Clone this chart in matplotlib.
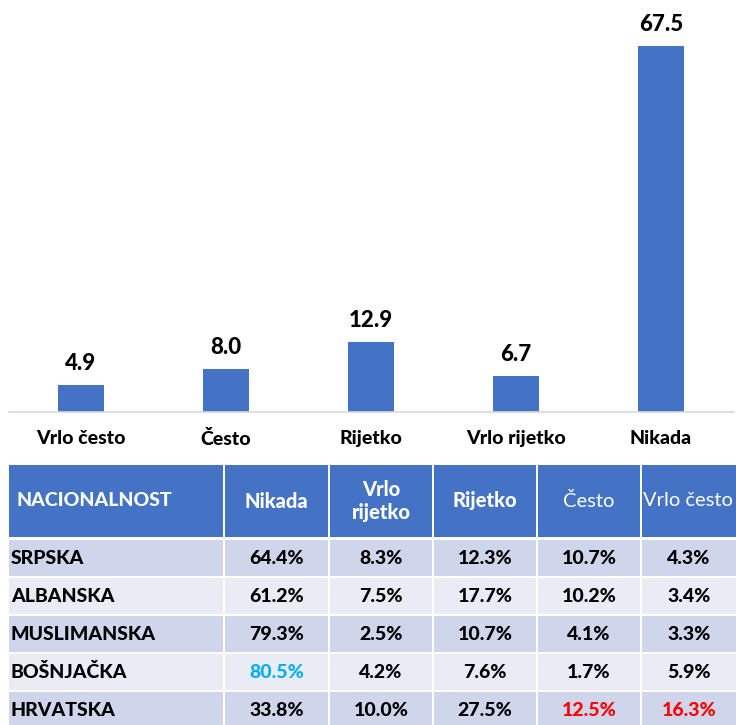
import matplotlib.pyplot as plt
from matplotlib.patches import Rectangle

plt.rcParams['font.family'] = ['Lato', 'DejaVu Sans']

# stupci gore
kategorije = ["Vrlo često", "Često", "Rijetko", "Vrlo rijetko", "Nikada"]
vrijednosti = [4.9, 8.0, 12.9, 6.7, 67.5]

# tablica dolje
zaglavlje = ["NACIONALNOST", "Nikada", "Vrlo\nrijetko", "Rijetko", "Često", "Vrlo često"]
nacionalnost = ["SRPSKA", "ALBANSKA", "MUSLIMANSKA", "BOŠNJAČKA", "HRVATSKA"]
nikada = [64.4, 61.2, 79.3, 80.5, 33.8]
vrlo_rijetko = [8.3, 7.5, 2.5, 4.2, 10.0]
rijetko = [12.3, 17.7, 10.7, 7.6, 27.5]
cesto = [10.7, 10.2, 4.1, 1.7, 12.5]
vrlo_cesto = [4.3, 3.4, 3.3, 5.9, 16.3]
istaknuto = {(3, 0): "#00B0F0", (4, 3): "#FF0000", (4, 4): "#FF0000"}

plava = "#4472C4"
W, H = 736, 725
jako = 900

fig = plt.figure(figsize=(W / 100, H / 100), dpi=100)

# --- stupčasti grafikon ---
ax = fig.add_axes([8.5 / W, (H - 412) / H, 725 / W, 412 / H])
x = range(len(kategorije))
ax.bar(x, vrijednosti, width=0.32, color=plava)
for i, v in zip(x, vrijednosti):
    ax.annotate(f"{v:.1f}", (i, v), xytext=(0, 8), textcoords="offset points",
                ha="center", va="bottom", fontsize=16, fontweight=jako)
ax.set_xlim(-0.5, 4.5)
ax.set_ylim(0, 76)
ax.set_xticks(list(x))
ax.set_xticklabels(kategorije, fontsize=14, fontweight=jako)
ax.tick_params(axis="x", length=0, pad=13)
ax.set_yticks([])
for s in ["top", "left", "right"]:
    ax.spines[s].set_visible(False)
ax.spines["bottom"].set_color("#D9D9D9")
ax.spines["bottom"].set_linewidth(1.2)

# --- tablica (koordinate u pikselima) ---
tb = fig.add_axes([0, 0, 1, (H - 460) / H])
tb.set_xlim(0, W)
tb.set_ylim(H, 460)
tb.axis("off")

rubovi_x = [8, 224, 329, 433, 537, 641, 760]
gornji_y = 465
visina_z = 72
visina_r = 36
korak_r = 38
prvi_r = 540

stupci = [nikada, vrlo_rijetko, rijetko, cesto, vrlo_cesto]
tezine_z = [jako, jako, jako, jako, "normal", "normal"]

for j in range(len(zaglavlje)):
    x0, x1 = rubovi_x[j] + 1, rubovi_x[j + 1] - 1
    tb.add_patch(Rectangle((x0, gornji_y), x1 - x0, visina_z, color=plava, lw=0))
    if j == 0:
        tb.text(x0 + 7, gornji_y + visina_z / 2, zaglavlje[j], color="white",
                fontsize=14, fontweight=jako, ha="left", va="center")
    elif j == len(zaglavlje) - 1:
        tb.text(x0 + 1, gornji_y + visina_z / 2, zaglavlje[j], color="white",
                fontsize=14.5, fontweight=tezine_z[j], ha="left", va="center")
    else:
        tb.text((x0 + x1) / 2, gornji_y + visina_z / 2, zaglavlje[j], color="white",
                fontsize=14.5, fontweight=tezine_z[j], ha="center", va="center",
                linespacing=1.2)

for i, naziv in enumerate(nacionalnost):
    y0 = prvi_r + i * korak_r
    boja = "#CFD5EA" if i % 2 == 0 else "#E9EBF5"
    for j in range(len(zaglavlje)):
        x0, x1 = rubovi_x[j] + 1, rubovi_x[j + 1] - 1
        tb.add_patch(Rectangle((x0, y0), x1 - x0, visina_r, color=boja, lw=0))
    tb.text(rubovi_x[0] + 3, y0 + visina_r / 2, naziv, fontsize=14,
            fontweight=jako, ha="left", va="center")
    for j, stupac in enumerate(stupci):
        x0, x1 = rubovi_x[j + 1] + 1, rubovi_x[j + 2] - 1
        xs = (x0 + x1) / 2 if j < 4 else 689
        tb.text(xs, y0 + visina_r / 2, f"{stupac[i]:.1f}%",
                color=istaknuto.get((i, j), "black"), fontsize=14,
                fontweight=jako, ha="center", va="center")

fig.savefig("out.png", dpi=100)
